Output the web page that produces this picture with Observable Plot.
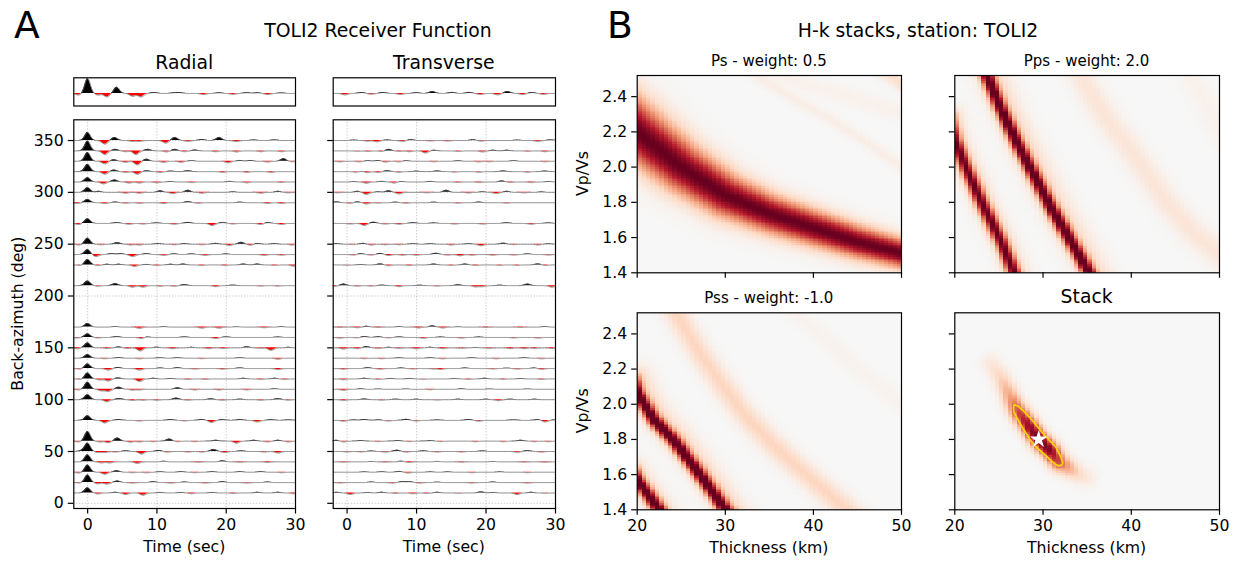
<!DOCTYPE html>
<html><head><meta charset="utf-8">
<script src="https://cdn.jsdelivr.net/npm/d3@7"></script>
<script src="https://cdn.jsdelivr.net/npm/@observablehq/plot@0.6"></script>
<style>
body{margin:0;background:#fff;}
#fig{position:relative;width:1237px;height:562px;background:#fff;overflow:hidden;}
</style></head><body><div id="fig"></div>
<script>
// ---------------- DATA ----------------
const timeTicks = [0, 10, 20, 30];
const timeGrid = [0, 10, 20];
const bazTicks = [0, 50, 100, 150, 200, 250, 300, 350];
const thickTicks = [20, 30, 40, 50];
const vpvsTicks = [1.4, 1.6, 1.8, 2.0, 2.2, 2.4];

const bazList = [350,340,330,320,310,300,290,270,250,240,230,210,170,160,150,140,130,120,110,100,80,60,50,40,30,20,10];

// radial receiver functions: pulses [time (s), amplitude (deg units)]
const radialPulses = [
 [[0,7.7],[2.5,-3.5],[3.9,3],[6.5,-0.8],[7.5,-0.8],[11.3,-2.5],[12.6,3],[14.5,-0.8],[16.5,1],[19,3],[21.5,-1],[24,0.5],[27,0.6]],
 [[0,9.4],[2.5,-3.5],[4,1.5],[5.5,-0.8],[7,-3.5],[8.7,1.5],[11.4,-1],[12.6,1.5],[14,-0.8],[15.5,0.8],[18.5,-0.8],[21.5,-1],[25,-0.8],[28,-0.8]],
 [[0,8.4],[2.5,-2.5],[3.8,1.5],[5.5,-1],[7.2,-3.5],[8.5,2],[11,-1],[13.5,-1],[15,0.6],[20.3,-1.5],[22,0.8],[23.5,0.8],[26,-0.8],[28.3,2.5],[29.5,-0.5]],
 [[0,7],[2.5,-2.5],[3.8,1.5],[5.5,-0.8],[7.2,-2.5],[8.5,0.8],[10.5,-0.8],[12,0.5],[14.5,0.8],[19.5,-0.8],[23,-0.8],[26.5,-0.8]],
 [[0,4.2],[2.3,-1.8],[3.9,2],[6,-1],[7.5,-1],[10,-0.8],[12,0.5],[15,-0.6],[20.5,0.6],[23,-0.8],[28,-0.5]],
 [[0,4.5],[1.6,1],[5.5,-0.8],[7.5,-0.8],[10.5,1.5],[12.3,-1.2],[14.5,2],[16.5,-0.8],[21,0.6],[25,-0.8],[27.5,1],[29,-0.5]],
 [[-1.5,-0.8],[0,3.2],[2.5,-0.8],[4,0.6],[5.5,-0.6],[7.5,-0.6],[11,-0.8],[14.5,1],[16,-0.6],[22,0.5],[26,-0.8],[28,-0.8]],
 [[-1.3,-1],[0,4.5],[4.2,0.8],[6,-0.8],[8,-0.6],[10,0.5],[12.5,-0.8],[14.5,1],[18,-2],[19.5,0.8],[21,-0.5],[25,-1],[26,0.8],[28,-1]],
 [[-1.2,-0.8],[0,5.8],[2,-0.6],[4.3,1.5],[6.2,-0.8],[7.5,-0.8],[10.2,0.6],[12.5,-0.6],[14,0.6],[16.5,-0.6],[18.5,0.8],[20.5,-1.2],[22.2,1.8],[23.5,-1],[24.5,0.8],[27,0.6],[29.5,-0.8]],
 [[0,4.8],[1.2,-2],[3.5,0.8],[4.8,0.8],[6.5,-2],[8.5,0.8],[11,-0.8],[12.5,0.6],[15,0.6],[17,-0.8],[20,0.5],[25.5,-0.8],[28,-0.6]],
 [[-1,-0.6],[0,5.2],[1.5,-0.6],[2.8,0.6],[4.5,0.6],[6.8,-1.5],[8.5,0.5],[10,-0.6],[12,0.6],[13.8,0.8],[16.5,-0.6],[19.8,-0.6],[22.5,0.8],[24.5,0.8],[27,-0.6],[29.7,-1.2]],
 [[0,4.5],[1.5,-0.6],[4,2],[6.5,-1.5],[8,-1.5],[10.5,-0.6],[12.5,-0.6],[14,1],[18.5,-1],[21,0.5],[25,-0.5],[27.5,-0.5]],
 [[0,3.5],[4,0.6],[7.5,-1.2],[11,0.5],[16.5,-1],[19,-1],[21.5,0.4],[25.5,-0.6],[28,0.5]],
 [[-1.5,-0.5],[0,3.5],[1.5,-0.5],[4.2,0.8],[7.8,-1],[8.5,0.5],[14,0.5],[18.5,-1],[20,0.5],[27.5,0.4]],
 [[-1.5,-0.8],[0,4.8],[2.8,-0.6],[4.5,0.8],[5.8,-0.6],[7.6,-3],[10,0.6],[12.3,-0.8],[15,0.5],[17.5,-0.8],[19.6,-0.6],[23,1],[25,-0.5],[26.5,-2.5],[29,0.5]],
 [[0,3.5],[2.5,-0.5],[4.5,0.6],[7.5,-0.6],[10.5,0.5],[13,0.5],[16.5,-0.5],[22,0.5],[27.5,-1]],
 [[-1,-0.6],[0,4.5],[3,-1.5],[4.4,1],[7.5,-1.5],[10.5,0.5],[13,0.8],[15.5,-0.5],[19.5,-0.6],[22,0.6],[27.5,-1]],
 [[-1,-0.6],[0,5.8],[1.8,-1],[3,-2],[4.4,1],[7.5,-2.5],[9.5,0.6],[12,0.5],[14.5,-0.6],[17,-0.6],[22.5,0.6],[25,-0.6],[27,0.6],[28.5,-0.6]],
 [[-1.3,-0.6],[0,6.8],[2,-1.5],[3,-2],[4.5,2],[6.5,-0.8],[7.5,-0.6],[13,1.5],[15.5,-0.6],[19,-0.6],[23,-0.6],[27,0.6]],
 [[0,4.8],[2.8,-2],[4.6,1.2],[6.5,-0.8],[8,-0.6],[10,-0.6],[12.8,1.5],[14.5,-0.6],[17.8,0.8],[19.5,-0.6],[22,0.5],[25,-0.6],[27.5,1],[29,-0.5]],
 [[0,4.5],[2.5,-2.5],[4.5,0.8],[7.5,-0.6],[12,0.8],[14,-0.5],[16.5,0.8],[17.9,-2],[19.5,0.6],[22,0.8],[24.5,-1.5],[26.5,0.6],[29,0.5]],
 [[-1.3,-0.8],[0,9.3],[1.8,-0.8],[3,-1.5],[4.3,3],[6.2,-1],[7.5,-0.8],[9.5,-0.6],[11.8,2],[13,-0.6],[15.5,-0.6],[18.5,0.8],[21.5,-2],[24,0.8],[26,-0.8],[27.5,0.8],[29,-0.8]],
 [[-0.8,0.8],[0,8],[1.5,-1],[2.5,-1],[4,-0.5],[5.5,0.6],[7.8,-2.5],[10.3,1],[11.5,-0.6],[14.5,-0.5],[16.5,-0.5],[18.2,2],[19.8,-1],[22.2,0.6],[25.5,-0.5],[27.5,-1.5]],
 [[0,6.8],[2,-1],[3.2,-1],[7.2,-1.5],[11,0.5],[16,-0.5],[19.5,1],[22,-0.5],[26,-0.6]],
 [[-1.2,-0.8],[0,7],[2.5,-2],[4.2,1.5],[6.5,-0.5],[8.5,-0.6],[10.5,0.5],[13.5,0.6],[15.5,-0.5],[18,0.6],[22,0.6],[25,0.6],[28,-0.5]],
 [[-1,-0.5],[0,7.4],[1.5,-1.2],[2.8,-1.5],[4.3,1.5],[6.5,-0.5],[9.5,0.8],[12,-0.5],[14,0.5],[17,-0.5],[19.5,0.8],[23,-0.5],[26,0.5]],
 [[0,5],[1.5,-1],[4,0.6],[5.5,-1.5],[8,-2.2],[10.5,0.5],[13.5,0.5],[15,-0.8],[18,0.5],[21,-0.5],[24.5,0.6],[27.5,0.6],[29.8,-0.8]]
];

// transverse receiver functions
const transversePulses = [
 [[1,0.4],[3,-0.6],[4.3,-1.2],[5.8,0.5],[8,-0.8],[9.2,0.8],[12,-0.4],[14.5,-0.5],[18.2,0.8],[19.2,-0.6],[24.5,0.4],[27.5,-0.8],[29.3,0.6]],
 [[1.5,-0.4],[3,-0.6],[5,-0.6],[6,1.5],[7.5,-0.6],[9,-0.8],[11.3,-2],[12.5,0.6],[16,-0.6],[19.5,-1],[21,0.6],[23,0.6],[26,-0.5],[28.5,-0.8]],
 [[-1,-0.6],[1.8,-0.6],[3,0.6],[4.5,0.8],[5.5,-0.8],[7.5,-0.6],[8.5,0.6],[12.5,-0.5],[16,0.5],[19,-0.6],[20.5,-0.5],[24,0.6],[28.5,-0.5]],
 [[1.3,-0.6],[2.3,0.6],[2.8,-1.2],[4.5,-0.8],[5.8,0.8],[7.5,-0.6],[10,0.4],[13,0.6],[15.5,-0.5],[19,-0.6],[22.5,0.6],[26,-0.6],[28.5,0.5]],
 [[1,0.4],[2.8,-1.2],[5,0.6],[6.8,-1],[7.8,0.5],[12,0.6],[16,-0.5],[19,-0.6],[22.3,1],[23.5,-0.6],[26.5,-0.6],[29,0.5]],
 [[-1.3,-0.4],[1.5,1],[2.8,-2],[4.5,0.6],[6,1.5],[7.5,-1.5],[11.5,-0.4],[14.3,2],[17.5,-0.6],[19.5,0.6],[21.5,-1.2],[23,1],[25.5,-0.5],[28,0.5]],
 [[-1.5,0.8],[0.5,-0.6],[1.5,0.8],[2.8,-1.2],[4.5,-0.4],[7,0.5],[8.5,-0.6],[12.5,0.5],[16,-0.5],[19,0.6],[23,-0.5]],
 [[0.5,-0.5],[2.5,-2],[3.8,1.2],[5.5,-0.6],[7.5,-0.8],[9.5,0.6],[12.5,0.4],[15.5,-0.6],[19.5,-0.6],[23,0.6],[26.5,-0.8],[29,0.5]],
 [[-1.5,0.6],[0.8,-0.4],[2.3,0.8],[3.5,-0.8],[5.5,-0.6],[7.5,-0.6],[9.5,0.5],[12,0.5],[15,-0.8],[17.5,0.5],[19.3,-1.5],[22.5,1],[24,-0.5],[27.5,-0.8],[29,0.4]],
 [[1,-0.5],[2,0.8],[3.5,-0.5],[4.8,1],[6,-1],[8,-0.6],[10,-0.6],[12.8,1.2],[14.5,-0.5],[16.3,-1.2],[18,-0.6],[21,-0.6],[24,-0.5],[26,0.6],[29,-0.5]],
 [[0,-0.4],[2,0.4],[4.8,1],[6,-0.8],[9,-0.6],[12.5,0.8],[15,-0.5],[17,0.8],[18.5,-0.6],[22,-0.5],[24.5,-0.5],[27.5,1],[28.5,-0.6]],
 [[-1.8,-0.8],[-0.5,1.5],[1.5,-0.6],[3.5,-0.5],[5,0.5],[7.5,-1],[10.5,0.4],[13,-0.5],[16,0.8],[18.5,-1.2],[19.5,-1],[22,0.4],[26,1.5],[29.5,-1.5]],
 [[-1,-0.4],[1.5,-0.6],[2.8,0.8],[4.5,-0.4],[7.5,0.6],[10.3,-0.8],[12.3,1.2],[13.8,-0.8],[16,0.4],[20,-0.4],[25,-0.4],[28.5,0.6]],
 [[-1,-0.6],[1.5,-0.4],[2.5,0.8],[4.5,0.6],[6,-0.4],[7.5,0.5],[11,-0.8],[13.5,0.4],[16.5,-0.6],[19,0.4],[24,-0.5],[27.5,-0.6]],
 [[-0.5,-1.2],[1.5,-0.8],[2.8,1.2],[4.5,-0.5],[6,0.5],[7.5,-0.5],[10,-1],[12,0.5],[13.8,-0.8],[16.5,-0.5],[18.5,0.4],[20.5,-0.5],[23.5,-0.8],[25.5,-0.8],[27,-0.6],[29.5,-0.6]],
 [[2.5,-0.5],[5,-0.5],[7.5,0.4],[12,0.5],[13.8,-0.6],[18,0.5],[21.5,-0.6],[25.5,0.5],[28,-0.6]],
 [[-0.5,-0.6],[3,0.8],[4.8,-0.6],[7.8,0.5],[9.5,-0.4],[12.5,-0.4],[13.5,-0.8],[17,0.5],[21,-0.4],[23,0.4],[24.5,-0.5],[27,0.5],[28,-0.8]],
 [[-0.5,-0.8],[2.5,0.6],[4.5,-0.5],[6.3,0.5],[9,0.5],[11,-0.4],[15.5,0.4],[17.5,-0.5],[19.8,0.6],[22.5,-0.5],[25,0.4],[28,-0.6]],
 [[-0.5,-1],[2,0.5],[4.5,0.4],[8.5,0.4],[12,-0.4],[16.5,0.5],[20.5,0.4],[26,0.4]],
 [[-0.5,-0.8],[2.5,0.6],[5,-0.5],[7,0.5],[10,0.4],[13,-0.4],[16,0.4],[20,0.4],[21.8,-1],[23.5,0.5],[27,0.4]],
 [[-0.5,-0.8],[1,0.4],[2.5,0.8],[4.5,0.4],[6,-0.6],[8.5,1],[10,-0.6],[13,0.4],[17.5,0.8],[19,-0.8],[24,0.5],[27.5,0.8],[28.5,-1.5],[30,0.5]],
 [[-1.5,0.8],[-0.5,-0.8],[2,0.6],[4.5,-0.5],[7.3,0.6],[9,-0.5],[12,0.5],[13.5,-0.5],[18.5,-0.6],[22.5,-0.6],[25,0.8],[27,-0.6],[29,-0.6]],
 [[0,-0.4],[2,-0.4],[3.5,0.4],[5.5,-0.6],[7.2,1.2],[8.5,-0.6],[11,0.6],[13,-0.5],[16.5,-0.5],[19.5,0.5],[24.5,-0.8],[26,0.8],[28,-0.6]],
 [[-0.5,-0.4],[3.5,0.4],[5.5,-0.4],[7.8,0.6],[9,-0.6],[13,0.4],[16.5,-0.4],[21,0.4],[25.5,-0.4],[28.5,-0.5]],
 [[2.5,0.4],[5,0.5],[7.5,0.8],[8.8,-0.8],[12,0.4],[14.5,0.4],[18,-0.5],[22,0.4],[26,-0.5]],
 [[-1,-0.4],[3.5,0.5],[6.5,-0.5],[8,0.8],[9,0.8],[10.5,-0.5],[13,0.4],[18,-0.4],[21,0.5],[26,-0.5]],
 [[-1.5,0.6],[0.5,-1.5],[3,0.5],[5,0.6],[7,-0.5],[9.5,-0.8],[11.5,-0.5],[13,0.6],[16,-0.4],[19.3,1],[21,0.5],[24.5,-1.5],[26.5,0.6],[28.5,-0.4]]
];

// stacked traces (normalised amplitude)
const radialStack = [[-1.3,-0.1],[0,0.94],[1.5,-0.1],[2.8,-0.22],[4.2,0.4],[6.5,-0.18],[7.7,-0.22],[9.6,0.06],[12.5,0.04],[13.3,0.05],[16.7,-0.07],[19,0.04],[21,-0.06],[23,0.05],[24.5,0.04],[26,-0.07],[28,0.03]];
const transverseStack = [[-0.3,-0.09],[2.1,0.06],[3.5,-0.05],[5.2,0.06],[7.7,-0.07],[10,0.05],[12.3,0.13],[15.1,0.07],[17.6,0.07],[19.2,-0.07],[21.7,-0.09],[23.1,0.13],[25.3,-0.07],[26.6,0.06],[28.3,-0.06]];

// H-k stack ridges: centre line (thickness km, Vp/Vs), peak amplitude, half-width (px)
const psRidges = [
 {h:[17,20,25,30,35,40,45,50,53], k:[2.33,2.2,2.0,1.84,1.735,1.655,1.575,1.51,1.48], amp:1, width:[19,19,17,15,13,12,11,10,10]},
 {h:[32,33.7,38,42,46,50,53], k:[2.58,2.51,2.38,2.27,2.14,2.0,1.92], amp:0.07, width:4},
 {h:[34,37,42,46,50,53], k:[2.6,2.51,2.43,2.37,2.31,2.27], amp:0.05, width:6},
 {h:[45,48.8,50,53], k:[2.62,2.52,2.47,2.38], amp:0.16, width:5}
];
const ppsRidges = [
 {h:[22.9,23.6,25.2,27,29,31,33,35.2,36], k:[2.6,2.52,2.33,2.14,1.95,1.76,1.59,1.4,1.33], amp:0.95, width:4.5},
 {h:[23.5,24.2,25.8,27.6,29.6,31.6,33.6,35.8,36.6], k:[2.6,2.52,2.33,2.14,1.95,1.76,1.59,1.4,1.33], amp:0.2, width:11},
 {h:[19.3,20,21.4,23.3,25.2,26.7,27.3], k:[2.28,2.15,1.98,1.77,1.58,1.4,1.33], amp:0.82, width:4.5},
 {h:[19.6,20.3,21.7,23.6,25.5,27,27.6], k:[2.28,2.15,1.98,1.77,1.58,1.4,1.33], amp:0.2, width:9},
 {h:[33.5,34.2,37,40.3,44,47,50,51], k:[2.6,2.52,2.29,2.07,1.8,1.63,1.5,1.45], amp:0.13, width:9},
 {h:[46,46.7,50,51], k:[2.6,2.52,2.21,2.12], amp:0.05, width:8}
];
const pssRidges = [
 {h:[19.4,20,21.9,24.2,26.8,30,31], k:[2.14,2.06,1.91,1.79,1.62,1.4,1.34], amp:0.95, width:4.5},
 {h:[20.1,20.7,22.6,24.9,27.5,30.7,31.7], k:[2.14,2.06,1.91,1.79,1.62,1.4,1.34], amp:0.22, width:10},
 {h:[19.4,20,21.3,22.5,23], k:[1.62,1.567,1.48,1.4,1.36], amp:0.92, width:4.5},
 {h:[19.8,20.4,21.7,22.9,23.4], k:[1.62,1.567,1.48,1.4,1.36], amp:0.2, width:9},
 {h:[23.5,24.35,27,29.5,32.1,35,38.2,41,43.8,45], k:[2.6,2.52,2.3,2.12,1.946,1.79,1.643,1.52,1.4,1.35], amp:0.22, width:8},
 {h:[36,38,44,50,52], k:[2.6,2.52,2.25,2.0,1.92], amp:0.04, width:6}
];
const stackRidges = [
 {h:[23.3,23.85,25.2,26.3,27.1,28.2,29.5,30.8,31.8,32.7,34.2,35.75,36.5],
  k:[2.30,2.25,2.154,2.04,1.965,1.89,1.80,1.737,1.67,1.643,1.595,1.567,1.55],
  amp:[0,0.1,0.22,0.42,0.66,0.85,1.0,0.92,0.66,0.42,0.18,0.06,0], width:6.5}
];
const bestFit = [{H: 29.5, k: 1.80}];
const contourLevel = [0.55];
// matplotlib RdBu_r, positive half
const cmapStops = ["#f7f7f7", "#fddbc7", "#f4a582", "#d6604d", "#b2182b", "#67001f"];

const panelTitles = ["Ps - weight: 0.5", "Pps - weight: 2.0", "Pss - weight: -1.0", "Stack"];

// ---------------- BUILD ----------------
const fig = document.getElementById("fig");
const FONT = "DejaVu Sans";
const TICKPX = 15.7;
const baseStyle = {fontFamily: FONT, fontSize: TICKPX + "px", color: "#000", background: "transparent", overflow: "visible"};

function place(el, left, top) {
  el.style.position = "absolute";
  el.style.left = left + "px";
  el.style.top = top + "px";
  el.style.maxWidth = "none";
  fig.appendChild(el);
}

const SIG = 0.4;
const tSamples = d3.range(-2, 30.0001, 0.05);
function wiggle(pulses) {
  return tSamples.map(t => [t, d3.sum(pulses, ([t0, a]) => a * Math.exp(-0.5 * ((t - t0) / SIG) ** 2))]);
}
function traceRows(bazs, pulseLists) {
  const rows = [];
  bazs.forEach((b, i) => {
    for (const [t, v] of wiggle(pulseLists[i])) rows.push({b, t, y: b + v, pos: b + Math.max(v, 0), neg: b + Math.min(v, 0)});
  });
  return rows;
}
const gridStyle = {stroke: "#b0b0b0", strokeWidth: 0.9, strokeDasharray: "1,2"};

function traceMarks(rows) {
  return [
    Plot.areaY(rows, {x: "t", y1: "b", y2: "pos", z: "b", fill: "#000"}),
    Plot.areaY(rows, {x: "t", y1: "b", y2: "neg", z: "b", fill: "#ff0000"}),
    Plot.line(rows, {x: "t", y: "y", z: "b", stroke: "#666", strokeWidth: 0.8})
  ];
}

function rfPanel(pulses, showY, ml, w) {
  const rows = traceRows(bazList, pulses);
  return Plot.plot({
    width: w, height: 450, marginLeft: ml, marginRight: 5, marginTop: 7.3, marginBottom: 54,
    style: baseStyle,
    x: {domain: [-2, 30]}, y: {domain: [-5, 370]},
    marks: [
      Plot.ruleX(timeGrid, gridStyle),
      Plot.ruleY(bazTicks, gridStyle),
      ...traceMarks(rows),
      Plot.frame({stroke: "#000", strokeWidth: 1.2}),
      Plot.axisX({ticks: timeTicks, tickSize: 5.5, tickPadding: 4.5, strokeWidth: 1.2, label: null, tickFormat: d => String(d)}),
      Plot.axisY({ticks: bazTicks, tickSize: 5.5, tickPadding: 4.5, strokeWidth: 1.2, label: null, tickFormat: showY ? (d => String(d)) : (() => "")})
    ]
  });
}

function stackBox(pulses, ml, w) {
  const rows = traceRows([0], [pulses]);
  return Plot.plot({
    width: w, height: 40, marginLeft: ml, marginRight: 5, marginTop: 7.3, marginBottom: 4.5,
    style: baseStyle,
    x: {domain: [-2, 30], axis: null}, y: {domain: [-0.8, 1], axis: null},
    marks: [...traceMarks(rows), Plot.frame({stroke: "#000", strokeWidth: 1.2})]
  });
}

// H-k grids
const NH = 60, NK = 112, H0 = 20, H1 = 50, K0 = 1.4, K1 = 2.52;
const PX_H = 264.3 / 30, PX_K = 197 / 1.12;
function at(v, i) { return Array.isArray(v) ? v[i] : v; }
function ridgeValue(r, H, k) {
  const X = H * PX_H, Y = k * PX_K;
  let best = Infinity, ba = 0, bs = 1;
  for (let s = 0; s < r.h.length - 1; s++) {
    const x0 = r.h[s] * PX_H, y0 = r.k[s] * PX_K, x1 = r.h[s + 1] * PX_H, y1 = r.k[s + 1] * PX_K;
    const dx = x1 - x0, dy = y1 - y0;
    let u = ((X - x0) * dx + (Y - y0) * dy) / (dx * dx + dy * dy);
    u = Math.max(0, Math.min(1, u));
    const d = Math.hypot(X - (x0 + u * dx), Y - (y0 + u * dy));
    if (d < best) {
      best = d;
      ba = at(r.amp, s) * (1 - u) + at(r.amp, s + 1) * u;
      bs = at(r.width, s) * (1 - u) + at(r.width, s + 1) * u;
    }
  }
  return ba * Math.exp(-0.5 * (best / bs) ** 2);
}
function field(ridges) {
  const cells = [];
  for (let i = 0; i < NH; i++) {
    const H = H0 + (i + 0.5) * (H1 - H0) / NH;
    for (let j = 0; j < NK; j++) {
      const k = K0 + (j + 0.5) * (K1 - K0) / NK;
      let v = 0;
      for (const r of ridges) v += ridgeValue(r, H, k);
      cells.push({H, k, v: Math.min(1, v)});
    }
  }
  return cells;
}
const rasterOpts = {x: "H", y: "k", width: NH, height: NK, x1: H0, x2: H1, y1: K0, y2: K1};
const cmap = d3.piecewise(d3.interpolateRgb, cmapStops);

function hkPanel(ridges, {w, h, ml, mr, mt, mb, xLab, yLab, extra = []}) {
  const cells = field(ridges);
  return Plot.plot({
    width: w, height: h, marginLeft: ml, marginRight: mr, marginTop: mt, marginBottom: mb,
    style: baseStyle,
    x: {domain: [H0, H1]}, y: {domain: [K0, K1]},
    color: {type: "linear", domain: [0, 1], interpolate: t => cmap(t)},
    marks: [
      Plot.raster(cells, {...rasterOpts, fill: "v", imageRendering: "pixelated", interpolate: "none"}),
      ...extra.map(f => f(cells)),
      Plot.frame({stroke: "#000", strokeWidth: 1.2}),
      Plot.axisX({ticks: thickTicks, tickSize: 5.5, tickPadding: 4.5, strokeWidth: 1.2, label: null, tickFormat: xLab ? (d => String(d)) : (() => "")}),
      Plot.axisY({ticks: vpvsTicks, tickSize: 5.5, tickPadding: 4.5, strokeWidth: 1.2, label: null, tickFormat: yLab ? (d => d.toFixed(1)) : (() => "")})
    ]
  });
}

// Panel A
place(stackBox(radialStack, 73.3, 300), 0, 70);
place(stackBox(transverseStack, 32.7, 260), 300, 70);
place(rfPanel(radialPulses, true, 73.3, 300), 0, 112);
place(rfPanel(transversePulses, false, 32.7, 260), 300, 112);

// Panel B
place(hkPanel(psRidges, {w: 345, h: 230, ml: 76.7, mr: 4, mt: 5, mb: 27.7, xLab: false, yLab: true}), 560, 70);
place(hkPanel(ppsRidges, {w: 330, h: 230, ml: 49.3, mr: 16, mt: 5, mb: 27.7, xLab: false, yLab: false}), 905, 70);
place(hkPanel(pssRidges, {w: 345, h: 257, ml: 76.7, mr: 4, mt: 7.3, mb: 52.7, xLab: true, yLab: true}), 560, 305);
place(hkPanel(stackRidges, {w: 330, h: 257, ml: 49.3, mr: 16, mt: 7.3, mb: 52.7, xLab: true, yLab: false, extra: [
  cells => Plot.contour(cells, {...rasterOpts, value: "v", thresholds: contourLevel, interpolate: "none", fill: "none", stroke: "#ffd700", strokeWidth: 1.6}),
  () => Plot.dot(bestFit, {x: "H", y: "k", symbol: "star", fill: "white", stroke: "none", r: 5.5})
]}), 905, 305);

// Text overlay
const texts = [
  ["A", 14, 38, 37.6, "start", 0],
  ["B", 607, 38, 37.6, "start", 0],
  ["TOLI2 Receiver Function", 378, 37, 18.8, "middle", 0],
  ["H-k stacks, station: TOLI2", 918, 37, 18.8, "middle", 0],
  ["Radial", 184.3, 69, 18.8, "middle", 0],
  ["Transverse", 443.8, 69, 18.8, "middle", 0],
  [panelTitles[0], 768.8, 66, 15, "middle", 0],
  [panelTitles[1], 1086.6, 66, 15, "middle", 0],
  [panelTitles[2], 768.8, 303, 15, "middle", 0],
  [panelTitles[3], 1086.6, 303, 18.8, "middle", 0],
  ["Time (sec)", 184.3, 552, 15.7, "middle", 0],
  ["Time (sec)", 443.8, 552, 15.7, "middle", 0],
  ["Thickness (km)", 768.8, 553, 15.7, "middle", 0],
  ["Thickness (km)", 1086.6, 553, 15.7, "middle", 0],
  ["Back-azimuth (deg)", 23, 313.6, 15.7, "middle", -90],
  ["Vp/Vs", 588, 173.6, 15.7, "middle", -90],
  ["Vp/Vs", 588, 410.8, 15.7, "middle", -90]
];
const ov = d3.create("svg").attr("width", 1237).attr("height", 562)
  .style("position", "absolute").style("left", "0px").style("top", "0px").style("pointer-events", "none")
  .attr("font-family", FONT);
for (const [s, x, y, size, anchor, rot] of texts) {
  ov.append("text").attr("transform", `translate(${x},${y}) rotate(${rot})`)
    .attr("text-anchor", anchor).attr("font-size", size).attr("fill", "#000").text(s);
}
fig.appendChild(ov.node());
</script></body></html>
